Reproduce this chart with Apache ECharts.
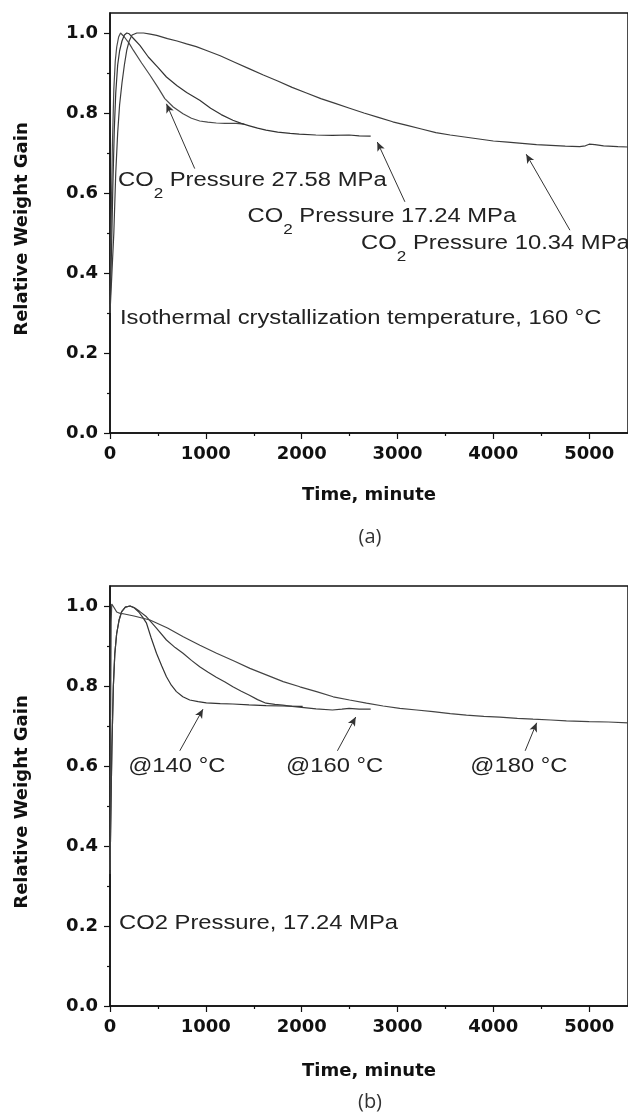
<!DOCTYPE html>
<html>
<head>
<meta charset="utf-8">
<script src="https://cdn.jsdelivr.net/npm/echarts@6/dist/echarts.min.js"></script>
<style>html,body{margin:0;padding:0;background:#fff}#c{width:628px;height:1117px}</style>
</head>
<body>
<div id="c"></div>
<script>
// ---------- axis ticks ----------
const xMajor = [0, 1000, 2000, 3000, 4000, 5000];
const xMinor = [500, 1500, 2500, 3500, 4500];
const yMajor = [0, 0.2, 0.4, 0.6, 0.8, 1.0];
const yMinor = [0.1, 0.3, 0.5, 0.7, 0.9];
const X_MAX = 5405;
const Y_MAX = 1.05;

// ---------- panel (a): 160 °C, three CO2 pressures  [time (min), relative weight gain] ----------
const a2758 = [[0,0.30],[10,0.50],[25,0.72],[40,0.86],[55,0.93],[70,0.965],[90,0.99],[110,1.0],[125,1.0],[150,0.99],[200,0.974],[243,0.957],[330,0.925],[416,0.895],[500,0.864],[572,0.836],[660,0.815],[762,0.798],[850,0.787],[936,0.78],[1020,0.777],[1109,0.775],[1200,0.774],[1317,0.774],[1400,0.772]];
const a1724 = [[0,0.30],[15,0.45],[30,0.62],[45,0.76],[60,0.85],[80,0.92],[100,0.955],[125,0.98],[150,0.995],[175,1.0],[200,0.998],[250,0.985],[312,0.969],[400,0.94],[500,0.914],[589,0.89],[700,0.868],[800,0.851],[936,0.832],[1050,0.812],[1160,0.796],[1282,0.782],[1370,0.774],[1455,0.768],[1540,0.762],[1628,0.757],[1750,0.752],[1880,0.749],[1975,0.747],[2148,0.745],[2321,0.744],[2495,0.745],[2600,0.743],[2720,0.742]];
const a1034 = [[0,0.30],[20,0.40],[40,0.50],[60,0.65],[80,0.75],[100,0.82],[125,0.875],[150,0.92],[175,0.957],[200,0.98],[230,0.995],[280,1.0],[350,1.0],[420,0.997],[487,0.994],[600,0.986],[700,0.98],[799,0.973],[900,0.966],[1000,0.957],[1150,0.943],[1300,0.927],[1450,0.911],[1600,0.895],[1750,0.88],[1900,0.864],[2050,0.85],[2200,0.836],[2350,0.824],[2500,0.812],[2650,0.8],[2800,0.789],[2950,0.778],[3100,0.769],[3250,0.76],[3400,0.751],[3550,0.745],[3700,0.74],[3850,0.735],[4000,0.73],[4150,0.727],[4300,0.724],[4450,0.721],[4600,0.719],[4750,0.717],[4900,0.716],[4960,0.718],[5000,0.722],[5060,0.721],[5150,0.718],[5300,0.716],[5405,0.715]];

// ---------- panel (b): 17.24 MPa, three temperatures ----------
const b140 = [[0,0.33],[10,0.5],[20,0.65],[35,0.8],[50,0.88],[69,0.93],[95,0.965],[122,0.986],[160,0.997],[209,1.0],[250,0.996],[300,0.985],[340,0.972],[381,0.957],[430,0.92],[485,0.882],[540,0.85],[589,0.823],[640,0.802],[693,0.786],[760,0.773],[832,0.765],[920,0.761],[1005,0.758],[1150,0.756],[1282,0.755],[1450,0.753],[1628,0.751],[1800,0.75],[1975,0.749],[2010,0.749]];
const b160 = [[0,0.33],[10,0.5],[20,0.65],[35,0.8],[50,0.88],[69,0.93],[95,0.965],[122,0.986],[160,0.997],[209,1.0],[260,0.995],[312,0.986],[381,0.973],[480,0.946],[589,0.915],[680,0.896],[762,0.882],[850,0.864],[936,0.848],[1020,0.835],[1109,0.822],[1200,0.81],[1282,0.798],[1370,0.787],[1455,0.777],[1540,0.766],[1628,0.757],[1720,0.754],[1802,0.752],[1900,0.749],[1975,0.747],[2150,0.743],[2321,0.74],[2420,0.742],[2495,0.744],[2600,0.742],[2720,0.742]];
const b180 = [[0,0.34],[6,0.7],[12,0.96],[18,1.005],[28,1.008],[45,0.995],[70,0.985],[100,0.982],[150,0.98],[250,0.975],[417,0.965],[600,0.945],[764,0.923],[938,0.902],[1112,0.882],[1300,0.862],[1460,0.844],[1650,0.826],[1807,0.811],[1981,0.798],[2155,0.786],[2329,0.773],[2500,0.765],[2676,0.757],[2850,0.75],[3024,0.744],[3200,0.74],[3371,0.736],[3550,0.731],[3719,0.727],[3900,0.724],[4067,0.722],[4250,0.719],[4414,0.717],[4600,0.715],[4762,0.713],[5000,0.711],[5200,0.71],[5405,0.708]];

// ---------- annotations (data coordinates) ----------
const notesA = [
  {text: '{t|CO}{s|2}{t| Pressure 27.58 MPa}', at: [83, 0.632]},
  {text: '{t|CO}{s|2}{t| Pressure 17.24 MPa}', at: [1435, 0.542]},
  {text: '{t|CO}{s|2}{t| Pressure 10.34 MPa}', at: [2620, 0.474]},
  {text: '{t|Isothermal crystallization temperature, 160 °C}', at: [104, 0.287]}
];
const notesB = [
  {text: '{t|@140 °C}', at: [190, 0.598]},
  {text: '{t|@160 °C}', at: [1837, 0.598]},
  {text: '{t|@180 °C}', at: [3760, 0.598]},
  {text: '{t|CO2 Pressure, 17.24 MPa}', at: [94, 0.207]}
];
const arrowsA = [[[884, 0.661], [589, 0.823]], [[3077, 0.578], [2789, 0.7275]], [[4799, 0.507], [4343, 0.697]]];
const arrowsB = [[[728, 0.638], [970, 0.742]], [[2373, 0.638], [2564, 0.7225]], [[4332, 0.638], [4452, 0.708]]];

const INK = '#111';
const boldFont = {fontFamily: 'DejaVu Sans', fontWeight: 'bold', fontSize: 18, color: INK};

function xAxes(gi, gap) {
  return [{
    type: 'value', gridIndex: gi, min: 0, max: X_MAX, interval: 1000, position: 'bottom',
    name: 'Time, minute', nameLocation: 'middle', nameGap: gap, nameTextStyle: boldFont,
    axisLine: {show: true, onZero: false, lineStyle: {color: INK, width: 1.5}},
    axisTick: {show: true, inside: false, length: 6, customValues: xMajor, lineStyle: {color: INK, width: 1.2}},
    minorTick: {show: false}, splitLine: {show: false},
    axisLabel: Object.assign({margin: 12, customValues: xMajor, formatter: v => String(v)}, boldFont)
  }, {
    type: 'value', gridIndex: gi, min: 0, max: X_MAX, interval: 500, position: 'bottom',
    axisLine: {show: false},
    axisTick: {show: true, inside: false, length: 3, customValues: xMinor, lineStyle: {color: INK, width: 1.2}},
    axisLabel: {show: false}, splitLine: {show: false}
  }];
}
function yAxes(gi) {
  return [{
    type: 'value', gridIndex: gi, min: 0, max: Y_MAX, interval: 0.2, position: 'left',
    name: 'Relative Weight Gain', nameLocation: 'middle', nameGap: 79, nameRotate: 90,
    nameTextStyle: Object.assign({padding: [0, 12, 0, 0]}, boldFont),
    axisLine: {show: true, onZero: false, lineStyle: {color: INK, width: 1.5}},
    axisTick: {show: true, inside: false, length: 6, customValues: yMajor, lineStyle: {color: INK, width: 1.2}},
    minorTick: {show: false}, splitLine: {show: false},
    axisLabel: Object.assign({margin: 12, customValues: yMajor, formatter: v => v.toFixed(1)}, boldFont)
  }, {
    type: 'value', gridIndex: gi, min: 0, max: Y_MAX, interval: 0.1, position: 'left',
    axisLine: {show: false},
    axisTick: {show: true, inside: false, length: 3, customValues: yMinor, lineStyle: {color: INK, width: 1.2}},
    axisLabel: {show: false}, splitLine: {show: false}
  }];
}

function lineSeries(data, gi, color) {
  return {
    type: 'line', data: data, xAxisIndex: gi * 2, yAxisIndex: gi * 2,
    showSymbol: false, symbol: 'none', smooth: false, silent: true,
    lineStyle: {color: color, width: 1.2}, z: 3
  };
}
function arrowLines(arrows) {
  return {
    silent: true, animation: false, symbol: ['none', 'arrow'], symbolSize: [6, 9],
    label: {show: false}, lineStyle: {color: '#333', width: 1, type: 'solid'},
    emphasis: {disabled: true},
    data: arrows.map(([a, b]) => [{coord: a}, {coord: b}])
  };
}

const sA = [lineSeries(a2758, 0, '#4a4a4a'), lineSeries(a1724, 0, '#333'), lineSeries(a1034, 0, '#3c3c3c')];
const sB = [lineSeries(b140, 1, '#333'), lineSeries(b160, 1, '#3c3c3c'), lineSeries(b180, 1, '#444')];
sA[0].markLine = arrowLines(arrowsA);
sB[0].markLine = arrowLines(arrowsB);

const gridStyle = {show: true, borderColor: INK, borderWidth: 1.5, backgroundColor: 'transparent'};
const chart = echarts.init(document.getElementById('c'), null, {renderer: 'canvas', width: 628, height: 1117});
chart.setOption({
  animation: false,
  backgroundColor: '#fff',
  grid: [
    Object.assign({left: 110, right: -2, top: 13, height: 420}, gridStyle),
    Object.assign({left: 110, right: -2, top: 586, height: 420}, gridStyle)
  ],
  xAxis: [...xAxes(0, 53), ...xAxes(1, 56)],
  yAxis: [...yAxes(0), ...yAxes(1)],
  series: [...sA, ...sB]
});

const rich = {
  t: {fontFamily: 'Liberation Sans', fontSize: 19.5, fill: '#222', verticalAlign: 'middle'},
  s: {fontFamily: 'Liberation Sans', fontSize: 14, fill: '#222', verticalAlign: 'bottom', lineHeight: 42}
};
const graphics = [];
function addNotes(notes, seriesIndex) {
  notes.forEach(n => {
    const p = chart.convertToPixel({seriesIndex: seriesIndex}, n.at);
    graphics.push({
      type: 'text', x: p[0], y: p[1], scaleX: 1.22, silent: true,
      style: {text: n.text, rich: rich, align: 'left', verticalAlign: 'middle', fill: '#222'}
    });
  });
}
addNotes(notesA, 0);
addNotes(notesB, 3);
graphics.push({type: 'text', x: 370, y: 537, silent: true,
  style: {text: '(a)', fontFamily: 'Open Sans', fontSize: 20, fill: '#333', align: 'center', verticalAlign: 'middle'}});
graphics.push({type: 'text', x: 370, y: 1102, silent: true,
  style: {text: '(b)', fontFamily: 'Open Sans', fontSize: 20, fill: '#333', align: 'center', verticalAlign: 'middle'}});
chart.setOption({graphic: graphics});
</script>
</body>
</html>
